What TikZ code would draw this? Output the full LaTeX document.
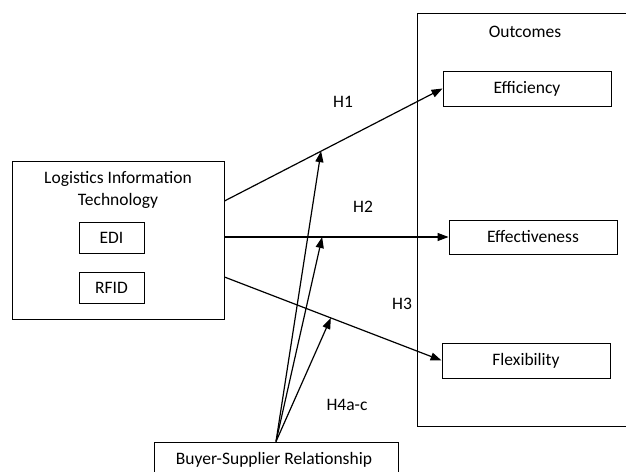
\documentclass[tikz,border=0pt]{standalone}
\usepackage{fontspec}
\setmainfont{Carlito}
\usetikzlibrary{arrows.meta}
\begin{document}
\begin{tikzpicture}[x=1pt,y=-1pt,
  every node/.style={font=\fontsize{17.5}{22}\selectfont},
  box/.style={draw,line width=0.9pt,rectangle,inner sep=0pt},
  conn/.style={line width=1.2pt,-{Triangle[length=11pt,width=8pt]}},
  lbl/.style={inner sep=0pt}]
\useasboundingbox (0,0) rectangle (626,471);
% left construct
\node[box,minimum width=212pt,minimum height=158pt] (lit) at (118,240) {};
\node[lbl,align=center] (littxt) at (118,190) {Logistics Information\\Technology};
\node[box,minimum width=65pt,minimum height=31pt] (edi) at (111.5,237.5) {EDI};
\node[box,minimum width=65pt,minimum height=31pt] (rfid) at (111.5,287.5) {RFID};
% outcomes
\node[box,minimum width=213pt,minimum height=413pt] (outc) at (523.5,219.5) {};
\node[lbl] (outtxt) at (525,32) {Outcomes};
\node[box,minimum width=168pt,minimum height=35pt] (eff) at (527,88.5) {Efficiency};
\node[box,minimum width=168pt,minimum height=34pt] (effv) at (533,237) {Effectiveness};
\node[box,minimum width=168pt,minimum height=35pt] (flex) at (526,360.5) {Flexibility};
% moderator
\node[box,minimum width=244pt,minimum height=40pt] (bsr) at (276,462) {};
\node[lbl] (bsrtxt) at (274,460) {Buyer-Supplier Relationship};
% start points on the left box
\coordinate (s1) at (lit.east |- 0,201);
\coordinate (s2) at (lit.east |- 0,237);
\coordinate (s3) at (lit.east |- 0,277);
% main paths
\draw[conn] (s1) -- (eff.west) coordinate[pos=0.443] (m1);
\draw[conn] (s2) -- (effv.west) coordinate[pos=0.436] (m2);
\draw[conn] (s3) -- (flex.west) coordinate[pos=0.49] (m3);
% moderation
\draw[conn] (bsr.north) -- (m1);
\draw[conn] (bsr.north) -- (m2);
\draw[conn] (bsr.north) -- (m3);
% labels
\node[lbl] (h1) at (343,102) {H1};
\node[lbl] (h2) at (363,207) {H2};
\node[lbl] (h3) at (402,304) {H3};
\node[lbl] (h4) at (347,405) {H4a-c};
\end{tikzpicture}
\end{document}
